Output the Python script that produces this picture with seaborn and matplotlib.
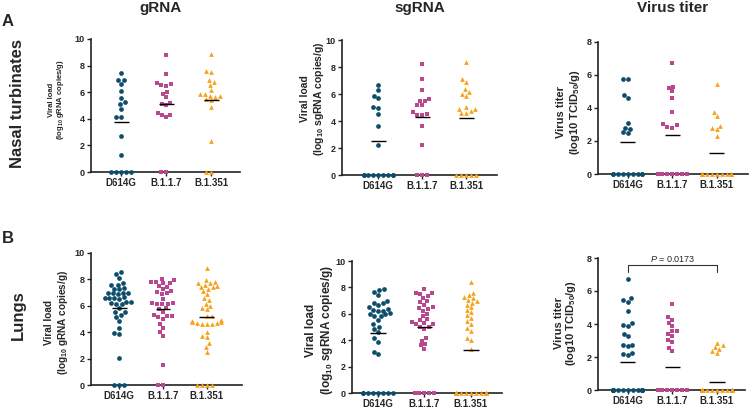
import numpy as np
import pandas as pd
import matplotlib
matplotlib.use("Agg")
import matplotlib.pyplot as plt
import seaborn as sns
from seaborn.categorical import Beeswarm
import warnings
warnings.filterwarnings("ignore")

VARIANTS = ["D614G", "B.1.1.7", "B.1.351"]
COLORS = {"D614G": "#0E4C6C", "B.1.1.7": "#B9488F", "B.1.351": "#F6A21A"}
MARKERS = {"D614G": "o", "B.1.1.7": "s", "B.1.351": "^"}

# ---- Nasal turbinates ----
nt_grna_d614g = [7.45, 6.95, 6.9, 6.65, 6.1, 5.55, 5.25, 5.1, 4.75, 4.15, 4.15,
                 2.7, 1.3, 0, 0, 0, 0, 0]
nt_grna_b117 = [8.8, 7.35, 6.7, 6.55, 6.6, 6.45, 6.05, 5.9, 5.65, 5.2, 5.15, 5.0,
                4.45, 4.3, 4.25, 4.1, 0, 0]
nt_grna_b1351 = [8.85, 7.6, 7.5, 6.95, 6.8, 6.55, 6.2, 5.9, 5.85, 5.75, 5.7, 5.65,
                 5.5, 5.4, 4.85, 2.3, 0, 0]

nt_sgrna_d614g = [6.65, 6.3, 5.85, 5.7, 5.0, 4.95, 4.55, 3.65, 2.2,
                  0, 0, 0, 0, 0, 0, 0, 0, 0]
nt_sgrna_b117 = [8.25, 7.1, 6.3, 5.65, 5.5, 5.45, 5.2, 5.15, 4.65, 4.45, 4.45, 4.5,
                 3.65, 2.2, 0, 0, 0]
nt_sgrna_b1351 = [8.37, 7.1, 6.9, 6.37, 6.15, 6.0, 5.85, 5.04, 4.9, 4.9, 4.74, 4.6,
                  4.6, 0, 0, 0, 0, 0]

nt_titer_d614g = [5.75, 5.75, 4.8, 4.6, 3.1, 2.8, 2.75, 2.55, 2.5,
                  0, 0, 0, 0, 0, 0, 0, 0, 0]
nt_titer_b117 = [6.75, 5.3, 5.2, 5.0, 4.6, 3.75, 3.0, 2.95, 2.85, 2.8,
                 0, 0, 0, 0, 0, 0, 0, 0]
nt_titer_b1351 = [5.45, 3.75, 3.5, 2.9, 2.8, 2.7, 2.3,
                  0, 0, 0, 0, 0, 0, 0, 0, 0, 0, 0]

# ---- Lungs ----
lu_grna_d614g = [8.55, 8.4, 8.1, 7.7, 7.6, 7.55, 7.35, 7.3, 7.25, 7.0, 7.0, 7.0,
                 6.95, 6.9, 6.65, 6.6, 6.6, 6.6, 6.55, 6.3, 6.3, 6.2, 6.15, 6.15,
                 5.85, 5.5, 5.5, 5.3, 5.15, 4.85, 4.3, 3.95, 3.9, 2.05, 0, 0, 0]
lu_grna_b117 = [8.05, 7.95, 7.8, 7.8, 7.75, 7.7, 7.5, 7.45, 7.3, 7.1, 7.05, 7.0,
                6.9, 6.55, 6.2, 6.2, 6.15, 6.1, 6.1, 5.85, 5.75, 5.55, 5.3, 5.25,
                5.2, 5.15, 5.0, 4.6, 4.3, 4.0, 3.7, 1.55, 0, 0]
lu_grna_b1351 = [8.85, 7.95, 7.8, 7.75, 7.7, 7.6, 7.5, 7.45, 7.4, 7.3, 7.15, 6.9,
                 6.6, 6.45, 6.15, 6.0, 5.85, 5.75, 5.25, 5.2, 4.9, 4.85, 4.75, 4.75,
                 4.7, 4.7, 4.65, 4.6, 4.6, 4.05, 3.75, 3.65, 3.15, 2.85, 2.5,
                 0, 0, 0, 0]

lu_sgrna_d614g = [7.9, 7.8, 7.65, 7.45, 7.0, 6.85, 6.85, 6.7, 6.5, 6.35, 6.3, 6.25,
                  6.2, 6.05, 5.95, 5.95, 5.85, 5.8, 5.55, 5.2, 5.0, 4.85, 4.6, 4.15,
                  3.9, 3.1, 2.95, 0, 0, 0, 0, 0, 0, 0, 0]
lu_sgrna_b117 = [7.85, 7.6, 7.55, 7.5, 7.35, 7.2, 7.0, 6.9, 6.7, 6.5, 6.45, 6.35,
                 6.2, 6.0, 5.8, 5.6, 5.5, 5.4, 5.3, 5.2, 5.2, 5.0, 5.0, 4.85, 4.15,
                 3.95, 3.7, 3.6, 3.35, 0, 0, 0, 0, 0]
lu_sgrna_b1351 = [8.4, 7.6, 7.4, 7.3, 7.2, 7.05, 6.95, 6.85, 6.7, 6.5, 6.3, 6.1,
                  5.9, 5.7, 5.45, 5.2, 4.9, 4.7, 4.2, 4.0, 3.3,
                  0, 0, 0, 0, 0, 0, 0, 0, 0, 0, 0, 0, 0, 0, 0, 0, 0, 0]

lu_titer_d614g = [6.75, 5.55, 5.45, 5.35, 4.8, 4.05, 3.95, 3.9, 3.4, 3.25, 2.75,
                  2.7, 2.65, 2.25, 2.2, 2.1] + [0] * 20
lu_titer_b117 = [5.2, 4.4, 4.25, 4.05, 3.85, 3.6, 3.55, 3.4, 3.25, 3.05, 2.9,
                 2.55, 2.35] + [0] * 21
lu_titer_b1351 = [2.85, 2.7, 2.6, 2.5, 2.35, 2.25] + [0] * 27

P_VALUE = "0.0173"

COL_TITLES = ["gRNA", "sgRNA", "Virus titer"]
ROW_TITLES = ["Nasal turbinates", "Lungs"]

W, H = 750, 411

# GraphPad-style swarms are a bit narrower than seaborn's default 0.8 gutter
_beeswarm_init = Beeswarm.__init__


def _narrow_beeswarm(self, orient="x", width=0.8, warn_thresh=.05):
    _beeswarm_init(self, orient=orient, width=width * 0.82, warn_thresh=warn_thresh)


Beeswarm.__init__ = _narrow_beeswarm

sns.set_style("ticks")
plt.rcParams.update({
    "font.family": ["Liberation Sans", "DejaVu Sans"],
    "mathtext.fontset": "custom",
    "mathtext.rm": "Liberation Sans:bold",
    "mathtext.it": "Liberation Sans:italic",
    "mathtext.bf": "Liberation Sans:bold",
})


def frame(d614g, b117, b1351):
    vals = [d614g, b117, b1351]
    return pd.DataFrame({
        "variant": np.repeat(VARIANTS, [len(v) for v in vals]),
        "value": np.concatenate(vals).astype(float),
    })


panels = [
    # data, (left, right, top, bottom) px, ymax, xlim, ylabel, label font, label centre px
    (frame(nt_grna_d614g, nt_grna_b117, nt_grna_b1351), (91, 240, 39, 172), 10,
     (-0.67, 2.64), "Viral load\n(log$_{10}$ gRNA copies/g)", 5.5, (57, 100)),
    (frame(nt_sgrna_d614g, nt_sgrna_b117, nt_sgrna_b1351), (342, 497, 40, 175), 10,
     (-0.82, 2.70), "Viral load\n(log$_{10}$ sgRNA copies/g)", 7.5, (313, 99)),
    (frame(nt_titer_d614g, nt_titer_b117, nt_titer_b1351), (598, 748, 42, 174), 8,
     (-0.67, 2.70), "Virus titer\n(log10 TCID$_{50}$/g)", 8, (569, 112)),
    (frame(lu_grna_d614g, lu_grna_b117, lu_grna_b1351), (91, 242, 253, 385), 10,
     (-0.64, 2.80), "Viral load\n(log$_{10}$ gRNA copies/g)", 7.2, (57, 322)),
    (frame(lu_sgrna_d614g, lu_sgrna_b117, lu_sgrna_b1351), (352, 502, 261, 393), 10,
     (-0.56, 2.67), "Viral load\n(log$_{10}$ sgRNA copies/g)", 8.5, (320, 330)),
    (frame(lu_titer_d614g, lu_titer_b117, lu_titer_b1351), (598, 745, 258, 390), 8,
     (-0.67, 2.63), "Virus titer\n(log10 TCID$_{50}$/g)", 8, (566, 323)),
]

fig = plt.figure(figsize=(W / 100, H / 100), dpi=100)

axes = []
for df, (l, r, t, b), ymax, xlim, ylab, lab_fs, (lx, ly) in panels:
    ax = fig.add_axes([l / W, 1 - b / H, (r - l) / W, (b - t) / H])
    for v in VARIANTS:
        sns.swarmplot(data=df[df["variant"] == v], x="variant", y="value",
                      order=VARIANTS, color=COLORS[v], marker=MARKERS[v],
                      size=3.4, linewidth=0, warn_thresh=1, ax=ax)
    means = df.groupby("variant")["value"].mean().reindex(VARIANTS)
    xs = np.arange(len(VARIANTS))
    ax.hlines(means.values, xs - 0.17, xs + 0.17, color="black", lw=1.0, zorder=5)
    for c in ax.collections:
        c.set_clip_on(False)
    ax.set_xlim(*xlim)
    ax.set_ylim(0, ymax)
    ax.set_yticks(np.arange(0, ymax + 1, 2))
    ax.set_xlabel("")
    ax.set_ylabel("")
    sns.despine(ax=ax)
    for s in ("left", "bottom"):
        ax.spines[s].set_linewidth(1.2)
        ax.spines[s].set_color("#222222")
    ax.tick_params(axis="both", length=3, width=1, color="#222222", pad=1.5)
    ax.tick_params(axis="y", labelsize=6.5)
    ax.tick_params(axis="x", labelsize=7)
    for lab in ax.get_xticklabels() + ax.get_yticklabels():
        lab.set_fontweight("bold")
    fig.text(lx / W, 1 - ly / H, ylab, rotation=90, ha="center", va="center",
             multialignment="center", fontsize=lab_fs, fontweight="bold",
             linespacing=1.1)
    axes.append(ax)

# significance bracket (lungs, virus titer)
ax = axes[5]
ax.plot([0, 0, 2, 2], [7.15, 7.55, 7.55, 7.15], color="#333333", lw=0.8,
        clip_on=False)
ax.text(1, 7.65, f"$P$ = {P_VALUE}", ha="center", va="bottom", fontsize=6.5)

# column titles
for title, cx in zip(COL_TITLES, (160, 420, 673)):
    fig.text(cx / W, 1 - 8 / H, title, ha="center", va="center",
             fontsize=11, fontweight="bold")

# row titles and panel letters
for letter, row, ly, ry in zip("AB", ROW_TITLES, (21, 238), (103, 315)):
    fig.text(2 / W, 1 - ly / H, letter, ha="left", va="center",
             fontsize=12, fontweight="bold")
    fig.text(18 / W, 1 - ry / H, row, rotation=90, ha="center", va="center",
             fontsize=12, fontweight="bold")

fig.savefig("out.png", dpi=100)
